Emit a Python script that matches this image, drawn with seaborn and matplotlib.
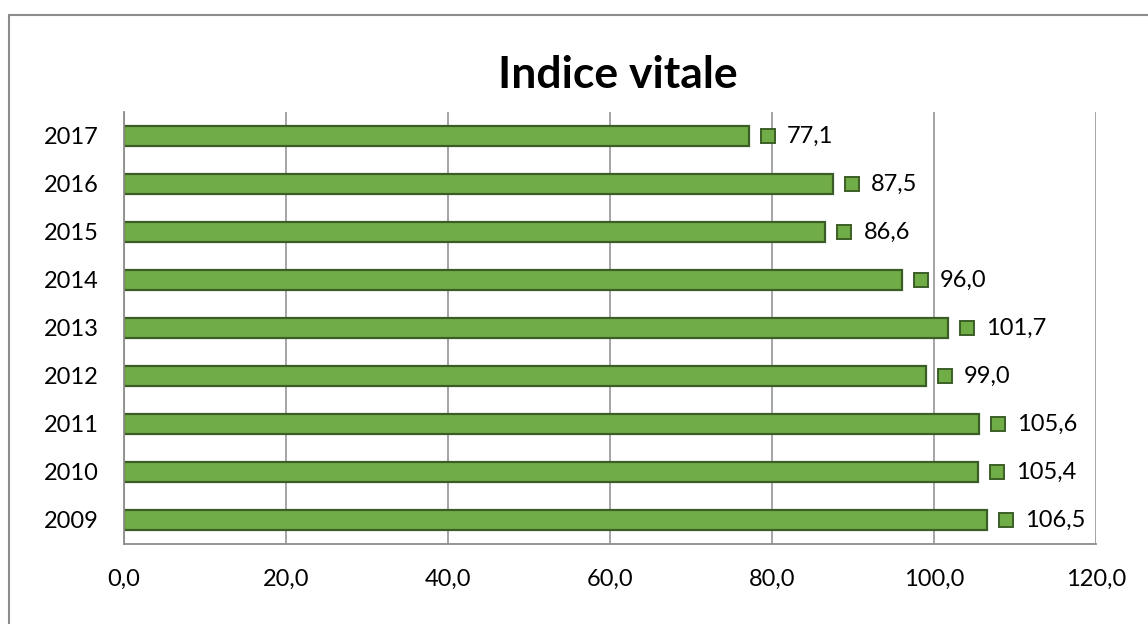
import matplotlib
matplotlib.use("Agg")
import matplotlib.pyplot as plt
import matplotlib.transforms as mtransforms
from matplotlib.patches import Rectangle
from matplotlib.ticker import FixedLocator
import pandas as pd
import seaborn as sns

# ── Data ──────────────────────────────────────────────────
anni = ["2017", "2016", "2015", "2014", "2013", "2012", "2011", "2010", "2009"]
indice = [77.1, 87.5, 86.6, 96.0, 101.7, 99.0, 105.6, 105.4, 106.5]
x_ticks = [0, 20, 40, 60, 80, 100, 120]
titolo = "Indice vitale"

VERDE = "#70AD47"
VERDE_SCURO = "#3B5E26"
GRIGIO = "#8C8C8C"

sns.set_style("white")
plt.rcParams["font.family"] = ["Lato", "DejaVu Sans"]

df = pd.DataFrame({"anno": anni, "indice": indice})

fig = plt.figure(figsize=(11.48, 6.24), dpi=100)
ax = fig.add_axes([124 / 1148, 80 / 624, 972 / 1148, 432 / 624])

sns.barplot(data=df, y="anno", x="indice", order=anni, orient="h",
            color=VERDE, edgecolor=VERDE_SCURO, linewidth=1.6,
            width=0.42, saturation=1, ax=ax)

ax.set_xlim(0, 120)
ax.set_ylim(len(anni) - 0.5, -0.5)
ax.set_xlabel("")
ax.set_ylabel("")

# griglia verticale
ax.set_xticks(x_ticks)
ax.set_xticklabels([f"{v:.1f}".replace(".", ",") for v in x_ticks])
ax.grid(axis="x", color=GRIGIO, linewidth=1.1)
ax.set_axisbelow(True)

for s in ["top", "right"]:
    ax.spines[s].set_visible(False)
for s in ["left", "bottom"]:
    ax.spines[s].set_color(GRIGIO)
    ax.spines[s].set_linewidth(1.3)

ax.tick_params(axis="x", which="major", direction="out", length=5,
               width=1.1, color=GRIGIO, labelsize=17, labelcolor="black", pad=13)
ax.tick_params(axis="y", which="major", length=0, labelsize=17,
               labelcolor="black", pad=18)
ax.yaxis.set_minor_locator(FixedLocator([i - 0.5 for i in range(len(anni) + 1)]))
ax.tick_params(axis="y", which="minor", direction="out", length=5,
               width=1.1, color=GRIGIO)

# etichette dati con quadratino
off_mark = mtransforms.offset_copy(ax.transData, fig=fig, x=19, y=0, units="dots")
off_text = mtransforms.offset_copy(ax.transData, fig=fig, x=38, y=0, units="dots")
for i, v in enumerate(indice):
    ax.plot(v, i, marker="s", markersize=10.5, color=VERDE,
            markeredgecolor=VERDE_SCURO, markeredgewidth=1.4,
            transform=off_mark, clip_on=False)
    ax.text(v, i, f"{v:.1f}".replace(".", ","), transform=off_text,
            ha="left", va="center", fontsize=17, color="black")

fig.text(618 / 1148, 1 - 75 / 624, titolo, ha="center", va="center",
         fontsize=32, fontweight="bold", color="black")

# bordo dell'area grafico
fig.patches.append(Rectangle((8.5 / 1148, -0.5), 2, 1.5 - 14.5 / 624,
                             transform=fig.transFigure, fill=False,
                             edgecolor=GRIGIO, linewidth=1.5))

fig.savefig("out.png", dpi=100)
